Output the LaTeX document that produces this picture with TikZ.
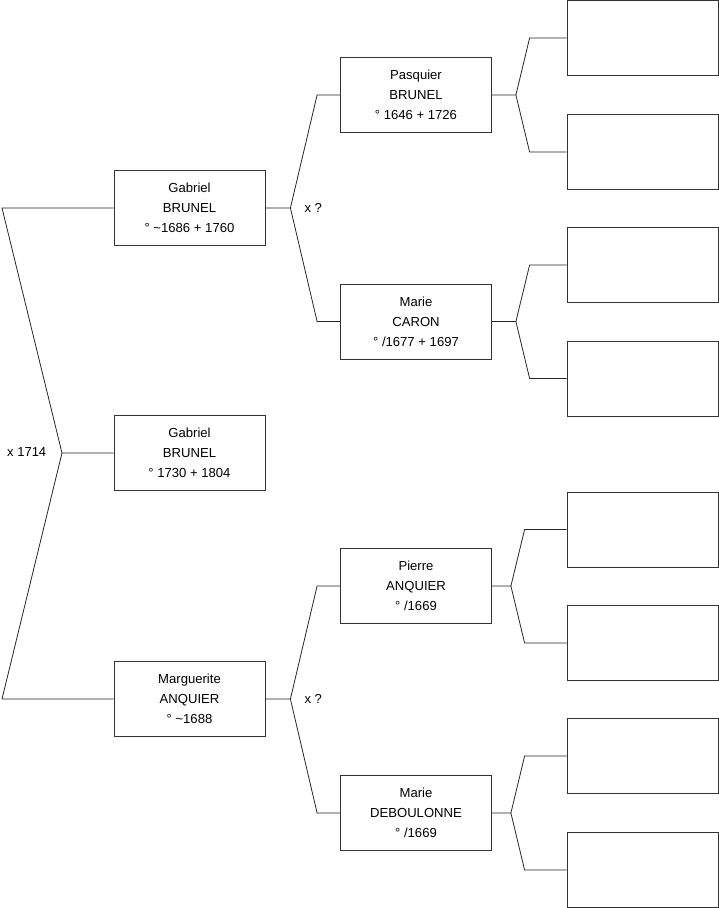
\documentclass[tikz,border=0pt]{standalone}
\usepackage{fontspec}
\setmainfont{Liberation Sans}
\usetikzlibrary{positioning,calc}
\begin{document}
\begin{tikzpicture}[x=1pt,y=-1pt,
    person/.style={draw=black!80, line width=0.8pt, minimum width=151pt, minimum height=75pt,
        inner sep=0pt, align=center, font=\fontsize{13.1}{20}\selectfont},
    link/.style={draw=black!85, line width=0.8pt},
    union/.style={anchor=west, inner sep=0pt, font=\fontsize{13}{15}\selectfont}]
    \useasboundingbox (0,0) rectangle (719,908);
    % Generation 0 and 1
    \node[person] (g0) at (189.5,453) {Gabriel\\BRUNEL\\° 1730 + 1804};
    \node[person] (f1) at (189.5,208) {Gabriel\\BRUNEL\\° \char`~1686 + 1760};
    \node[person] (m1) at (189.5,699) {Marguerite\\ANQUIER\\° \char`~1688};
    % Generation 2
    \node[person] (f2) at (416,95) {Pasquier\\BRUNEL\\° 1646 + 1726};
    \node[person] (m2) at (416,321.5) {Marie\\CARON\\° /1677 + 1697};
    \node[person] (f3) at (416,586) {Pierre\\ANQUIER\\° /1669};
    \node[person] (m3) at (416,813) {Marie\\DEBOULONNE\\° /1669};
    % Generation 3 (empty)
    \foreach \n/\y in {a/38,b/152,c/265,d/378.5,e/529.5,f/643,g/756,h/870}
        \node[person] (p\n) at (642.5,\y) {};
    % Marriage of the parents
    \coordinate (j0) at (62,453);
    \coordinate (e1) at (2,208);
    \coordinate (e2) at (2,699);
    \draw[link] (g0.west) -- (j0) -- (e1) -- (f1.west);
    \draw[link] (j0) -- (e2) -- (m1.west);
    \node[union] (u0) at (7,452) {x 1714};
    % Grandparents
    \foreach \p/\a/\b/\u in {f1/f2/m2/u1, m1/f3/m3/u2} {
        \draw[link] (\p.east) -- ($(\p.east)+(25,0)$) -- ($(\a.west)+(-23,0)$) -- (\a.west);
        \draw[link] ($(\p.east)+(25,0)$) -- ($(\b.west)+(-23,0)$) -- (\b.west);
        \node[union] (\u) at ($(\p.east)+(39,0)$) {x ?};
    }
    % Great-grandparents
    \foreach \p/\a/\b/\s/\t in {f2/pa/pb/24/37, m2/pc/pd/24/37, f3/pe/pf/19/42, m3/pg/ph/19/42} {
        \draw[link] (\p.east) -- ($(\p.east)+(\s,0)$) -- ($(\a.west)+(-\t,0)$) -- (\a.west);
        \draw[link] ($(\p.east)+(\s,0)$) -- ($(\b.west)+(-\t,0)$) -- (\b.west);
    }
\end{tikzpicture}
\end{document}
